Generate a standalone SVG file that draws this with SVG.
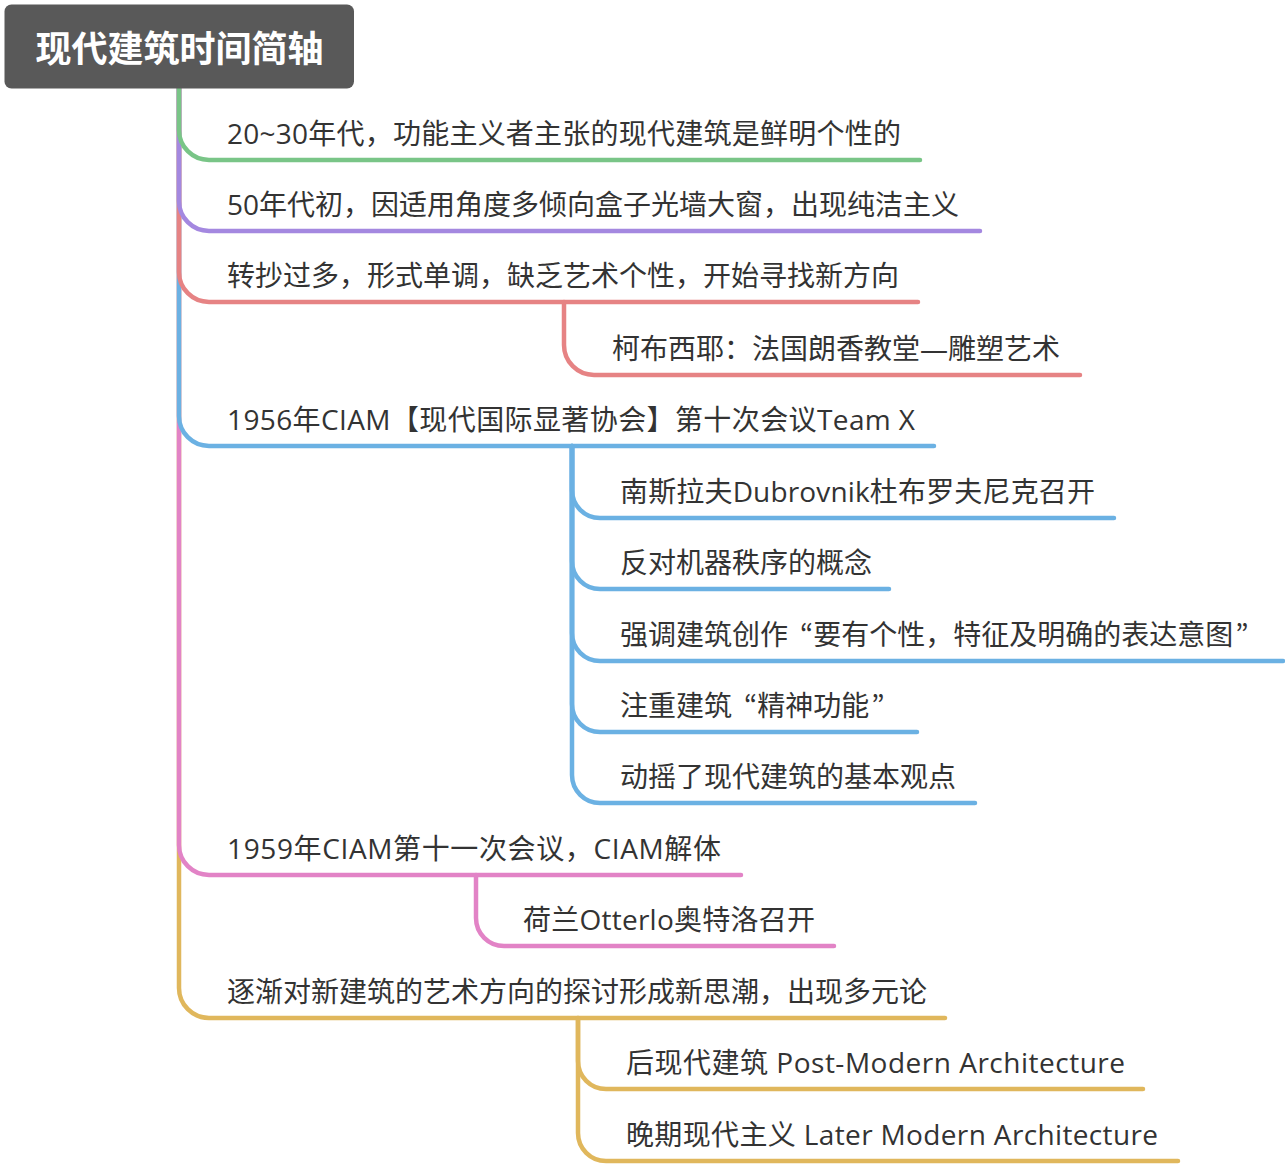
<svg xmlns="http://www.w3.org/2000/svg" width="1285" height="1166" viewBox="0 0 1285 1166">
<style>
.c{fill:none;stroke-width:4.5;stroke-linecap:round;stroke-linejoin:round}
.g{stroke:#79C587}.p{stroke:#A488E0}.r{stroke:#E68384}.b{stroke:#6BB1E3}.k{stroke:#E283C6}.y{stroke:#E0B75C}
.t{font-family:"Open Sans","Noto Sans CJK SC",sans-serif;font-size:28px;fill:#333}
.q{font-family:"Noto Sans CJK JP",sans-serif}
.root{font-family:"Noto Sans CJK SC",sans-serif;font-size:36px;font-weight:bold;fill:#fff}
</style>
<rect width="1285" height="1166" fill="#fff"/>
<g id="connectors">
  <path class="c y" d="M179,88 V988 A30,30 0 0 0 209,1018 H945"/>
  <path class="c k" d="M179,88 V845 A30,30 0 0 0 209,875 H741"/>
  <path class="c b" d="M179,88 V416 A30,30 0 0 0 209,446 H934"/>
  <path class="c r" d="M179,88 V272 A30,30 0 0 0 209,302 H918"/>
  <path class="c p" d="M179,88 V201 A30,30 0 0 0 209,231 H980"/>
  <path class="c g" d="M179,88 V130 A30,30 0 0 0 209,160 H920"/>
  <path class="c r" d="M564,302 V345 A30,30 0 0 0 594,375 H1080"/>
  <path class="c b" d="M572,446 V775 A28,28 0 0 0 600,803 H975"/>
  <path class="c b" d="M572,446 V704 A28,28 0 0 0 600,732 H917"/>
  <path class="c b" d="M572,446 V633 A28,28 0 0 0 600,661 H1283"/>
  <path class="c b" d="M572,446 V561 A28,28 0 0 0 600,589 H889"/>
  <path class="c b" d="M572,446 V490 A28,28 0 0 0 600,518 H1114"/>
  <path class="c k" d="M476,875 V918 A28,28 0 0 0 504,946 H834"/>
  <path class="c y" d="M578,1018 V1133 A28,28 0 0 0 606,1161 H1178"/>
  <path class="c y" d="M578,1018 V1061 A28,28 0 0 0 606,1089 H1143"/>
</g>
<g id="root">
  <rect x="4.5" y="4.5" width="349.5" height="84" rx="7" fill="#595959"/>
  <text class="root" x="179.5" y="62" text-anchor="middle">现代建筑时间简轴</text>
</g>
<g id="n1"><text class="t" x="227" y="144" textLength="674" lengthAdjust="spacing">20~30年代，功能主义者主张的现代建筑是鲜明个性的</text></g>
<g id="n2"><text class="t" x="227" y="215">50年代初，因适用角度多倾向盒子光墙大窗，出现纯洁主义</text></g>
<g id="n3"><text class="t" x="227" y="286">转抄过多，形式单调，缺乏艺术个性，开始寻找新方向</text></g>
<g id="n3a"><text class="t" x="612" y="359">柯布西耶：法国朗香教堂—雕塑艺术</text></g>
<g id="n4"><text class="t" x="227" y="430" textLength="688" lengthAdjust="spacing">1956年CIAM【现代国际显著协会】第十次会议Team X</text></g>
<g id="n4a"><text class="t" x="620" y="502" textLength="475" lengthAdjust="spacing">南斯拉夫Dubrovnik杜布罗夫尼克召开</text></g>
<g id="n4b"><text class="t" x="620" y="573">反对机器秩序的概念</text></g>
<g id="n4c"><text class="t" x="620" y="645">强调建筑创作<tspan class="q" dx="12">“</tspan>要有个性，特征及明确的表达意图<tspan class="q" dx="2">”</tspan></text></g>
<g id="n4d"><text class="t" x="620" y="716">注重建筑<tspan class="q" dx="12">“</tspan>精神功能<tspan class="q" dx="2">”</tspan></text></g>
<g id="n4e"><text class="t" x="620" y="787">动摇了现代建筑的基本观点</text></g>
<g id="n5"><text class="t" x="227" y="859" textLength="494" lengthAdjust="spacing">1959年CIAM第十一次会议，CIAM解体</text></g>
<g id="n5a"><text class="t" x="523" y="930" textLength="292" lengthAdjust="spacing">荷兰Otterlo奥特洛召开</text></g>
<g id="n6"><text class="t" x="227" y="1002">逐渐对新建筑的艺术方向的探讨形成新思潮，出现多元论</text></g>
<g id="n6a"><text class="t" x="626" y="1073" textLength="499" lengthAdjust="spacing">后现代建筑 Post-Modern Architecture</text></g>
<g id="n6b"><text class="t" x="626" y="1145" textLength="532" lengthAdjust="spacing">晚期现代主义 Later Modern Architecture</text></g>
</svg>
